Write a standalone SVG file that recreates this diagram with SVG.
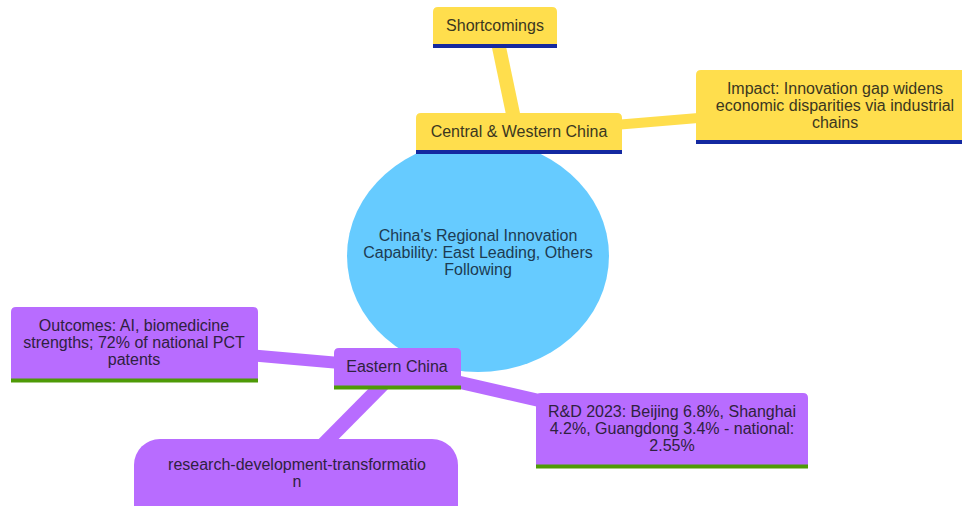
<svg xmlns="http://www.w3.org/2000/svg" width="962" height="506" viewBox="0 0 962 506">
  <style>
    text { font-family: "Liberation Sans", Arial, sans-serif; font-size: 16px; text-anchor: middle; }
    .y { fill: #FFDE4D; }
    .p { fill: #B86CFF; }
    .ty { fill: #3b3720; }
    .tp { fill: #2f2140; }
    .tr { fill: #1d3b52; }
    .bb { stroke: #1429A0; stroke-width: 4; }
    .gb { stroke: #4E9A06; stroke-width: 4; }
    .ey { stroke: #FFDE4D; stroke-linecap: butt; fill: none; }
    .ep { stroke: #B86CFF; stroke-linecap: butt; fill: none; }
  </style>

  <!-- connectors -->
  <g id="edges">
    <line class="ey" x1="478" y1="255" x2="519" y2="133" stroke-width="16"/>
    <line class="ey" x1="495" y1="28" x2="517" y2="133" stroke-width="14"/>
    <line class="ey" x1="519" y1="133" x2="829" y2="107" stroke-width="10"/>
    <line class="ep" x1="478" y1="255" x2="397" y2="368" stroke-width="16"/>
    <line class="ep" x1="397" y1="368" x2="134" y2="345" stroke-width="12"/>
    <line class="ep" x1="397" y1="368" x2="672" y2="431" stroke-width="13"/>
    <line class="ep" x1="399" y1="368" x2="296" y2="472" stroke-width="14"/>
  </g>

  <!-- root -->
  <g id="root">
    <ellipse cx="478" cy="256" rx="131" ry="116" fill="#66CBFF"/>
    <text class="tr" x="478" y="240.5">China's Regional Innovation</text>
    <text class="tr" x="478" y="257.5">Capability: East Leading, Others</text>
    <text class="tr" x="478" y="274.5">Following</text>
  </g>

  <!-- Central & Western branch -->
  <g id="central">
    <path class="y" d="M416,154 V118 Q416,113 421,113 H617 Q622,113 622,118 V154 Z"/>
    <line class="bb" x1="416" y1="152" x2="622" y2="152"/>
    <text class="ty" x="519" y="137">Central &amp; Western China</text>
  </g>

  <g id="shortcomings">
    <path class="y" d="M433,48 V12 Q433,7 438,7 H552 Q557,7 557,12 V48 Z"/>
    <line class="bb" x1="433" y1="46" x2="557" y2="46"/>
    <text class="ty" x="495" y="31">Shortcomings</text>
  </g>

  <g id="impact">
    <path class="y" d="M696,144 V75 Q696,70 701,70 H970 Q975,70 975,75 V144 Z"/>
    <line class="bb" x1="696" y1="142" x2="975" y2="142"/>
    <text class="ty" x="835" y="93.5">Impact: Innovation gap widens</text>
    <text class="ty" x="835" y="110.5">economic disparities via industrial</text>
    <text class="ty" x="835" y="127.5">chains</text>
  </g>

  <!-- Eastern branch -->
  <g id="eastern">
    <path class="p" d="M334,389 V353 Q334,348 339,348 H456 Q461,348 461,353 V389 Z"/>
    <line class="gb" x1="334" y1="387.5" x2="461" y2="387.5"/>
    <text class="tp" x="397" y="372">Eastern China</text>
  </g>

  <g id="outcomes">
    <path class="p" d="M11,382 V312 Q11,307 16,307 H253 Q258,307 258,312 V382 Z"/>
    <line class="gb" x1="11" y1="380.5" x2="258" y2="380.5"/>
    <text class="tp" x="134" y="331">Outcomes: AI, biomedicine</text>
    <text class="tp" x="134" y="348">strengths; 72% of national PCT</text>
    <text class="tp" x="134" y="365">patents</text>
  </g>

  <g id="rnd">
    <path class="p" d="M536,468 V398 Q536,393 541,393 H803 Q808,393 808,398 V468 Z"/>
    <line class="gb" x1="536" y1="466.5" x2="808" y2="466.5"/>
    <text class="tp" x="672" y="417">R&amp;D 2023: Beijing 6.8%, Shanghai</text>
    <text class="tp" x="672" y="434">4.2%, Guangdong 3.4% - national:</text>
    <text class="tp" x="672" y="451">2.55%</text>
  </g>

  <g id="rdt">
    <rect class="p" x="134" y="439" width="324" height="92" rx="26" ry="26"/>
    <text class="tp" x="297" y="469.5">research-development-transformatio</text>
    <text class="tp" x="297" y="486.5">n</text>
  </g>
</svg>
